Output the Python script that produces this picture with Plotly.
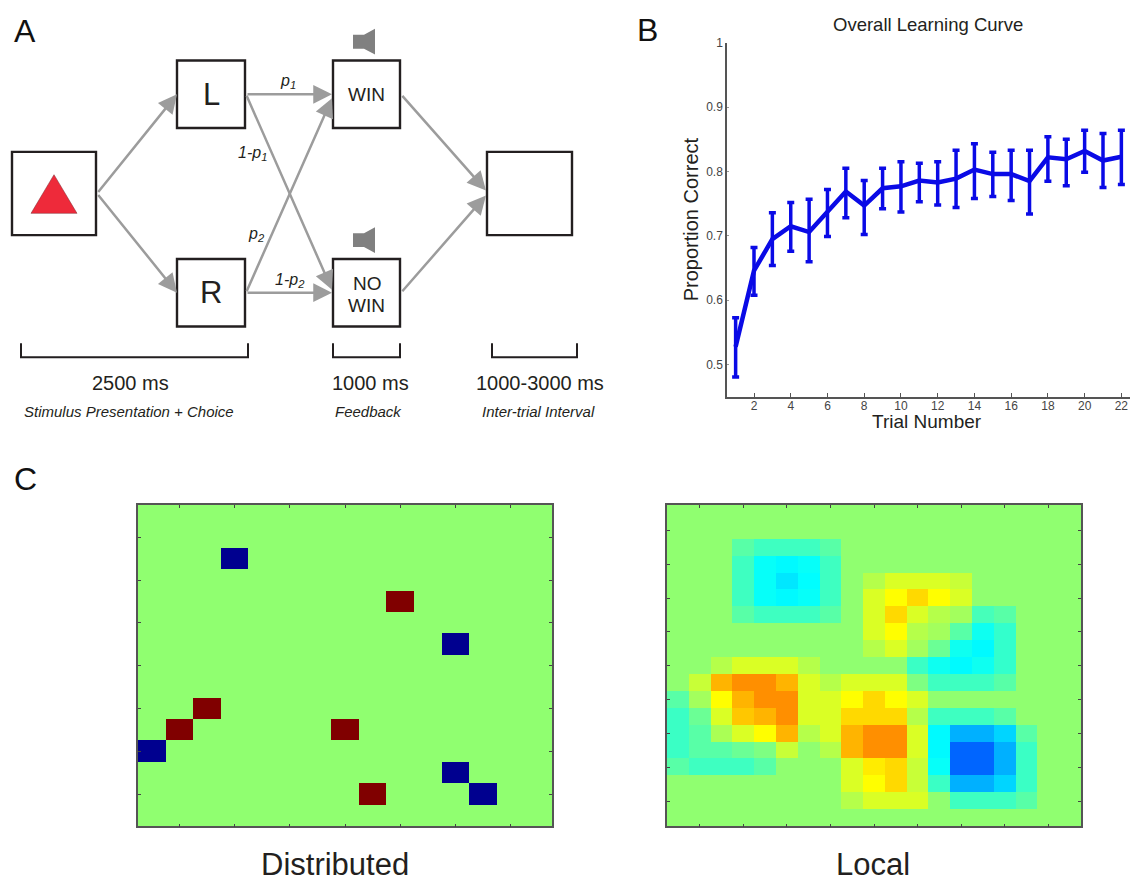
import plotly.graph_objects as go

# ---- Panel B data
trials = list(range(1, 23))
proportion_correct = [0.528, 0.646, 0.695, 0.715, 0.706, 0.738, 0.769, 0.747, 0.774, 0.777, 0.786,
                      0.783, 0.789, 0.803, 0.796, 0.796, 0.785, 0.822, 0.819, 0.832, 0.817, 0.823]
error_upper = [0.573, 0.682, 0.736, 0.752, 0.757, 0.772, 0.805, 0.786, 0.805, 0.815, 0.813,
               0.815, 0.833, 0.843, 0.830, 0.833, 0.833, 0.854, 0.850, 0.864, 0.859, 0.864]
error_lower = [0.481, 0.608, 0.654, 0.676, 0.660, 0.699, 0.728, 0.702, 0.742, 0.737, 0.753,
               0.748, 0.744, 0.758, 0.761, 0.755, 0.734, 0.785, 0.778, 0.799, 0.775, 0.780]
b_xticks = list(range(2, 23, 2))
b_yticks = [0.5, 0.6, 0.7, 0.8, 0.9, 1]
b_yticklabels = ["0.5", "0.6", "0.7", "0.8", "0.9", "1"]

# ---- Panel C data (colour levels; 0 = background)
distributed_pos = [(4, 9), (9, 2), (10, 1), (10, 7), (13, 8)]
distributed_neg = [(2, 3), (6, 11), (11, 0), (12, 11), (13, 12)]
local_levels = [
    [0]*19,
    [0]*19,
    [0, 0, 0, -1.5, -2.2, -2.2, -2.2, -1.5, 0, 0, 0, 0, 0, 0, 0, 0, 0, 0, 0],
    [0, 0, 0, -2.2, -3.7, -4, -3.7, -2.2, 0, 0, 0, 0, 0, 0, 0, 0, 0, 0, 0],
    [0, 0, 0, -2.2, -3.7, -4.5, -3.9, -2.2, 0, 1, 2, 2, 2, 1.5, 0, 0, 0, 0, 0],
    [0, 0, 0, -2.2, -3.7, -4, -3.7, -2.2, 0, 2, 3, 4, 3, 2, 0, 0, 0, 0, 0],
    [0, 0, 0, -1.5, -2.2, -2.2, -2.2, -1.5, 0, 2, 4, 2, 1, 0.5, -2, -1.5, 0, 0, 0],
    [0, 0, 0, 0, 0, 0, 0, 0, 0, 2, 3, 1, 0.5, -1.5, -3.5, -2.5, 0, 0, 0],
    [0, 0, 0, 0, 0, 0, 0, 0, 0, 1, 2, 0.5, -1, -3.5, -4, -2.5, 0, 0, 0],
    [0, 0, 1, 2, 2, 2, 1, 0, 0, 0, 0, -2.3, -3.5, -4, -3.5, -2.5, 0, 0, 0],
    [0, 1.5, 5, 6, 6, 5, 2, 1, 2, 2, 2, -0.5, -2.2, -2.2, -2.2, -1.5, 0, 0, 0],
    [-1.5, 0.5, 3, 5, 6, 6, 2, 2, 3, 4, 3, 2, 0, 0, 0, 0, 0, 0, 0],
    [-2.3, -1, 2, 4.5, 5, 6, 2, 2, 4, 4, 4, 1, -2.2, -2.2, -2.2, -1.5, 0, 0, 0],
    [-2.3, -1.5, 0.7, 2, 3, 5, 1, 2, 5, 6, 6, 2, -4, -6, -6, -5, -1.5, 0, 0],
    [-2.3, -1.5, -1.5, -1, -0.5, 1.5, 0, 1, 5, 6, 6, 2, -4, -8, -8, -6, -2.3, 0, 0],
    [-1.5, -2.2, -2.2, -2.2, -1.5, 0, 0, 0, 2, 3.5, 4, 1.5, -3.7, -8, -8, -6, -2.3, 0, 0],
    [0, 0, 0, 0, 0, 0, 0, 0, 2, 3, 4, 1.5, -2.3, -6, -6, -5, -2.3, 0, 0],
    [0, 0, 0, 0, 0, 0, 0, 0, 1, 2, 2, 2, 0, -2.2, -2.2, -2.2, -1.5, 0, 0],
    [0]*19,
]
heat_ticks_d = [1, 3, 5, 7, 9, 11, 13]
heat_ticks_l = [1, 3, 5, 7, 9, 11, 13, 15, 17]

W, H = 1130, 882
ZMIN, ZMAX = -14.14, 13.26
JET = [[0, "#00008f"], [0.125, "#0000ff"], [0.375, "#00ffff"], [0.5, "#80ff80"],
       [0.625, "#ffff00"], [0.875, "#ff0000"], [1, "#800000"]]
FONT = "Liberation Sans"
GRAY = "#9c9c9c"
BOX = "#231f20"

distributed = [[0] * 15 for _ in range(15)]
for r, c in distributed_pos:
    distributed[r][c] = ZMAX
for r, c in distributed_neg:
    distributed[r][c] = ZMIN


def xdom(a, b):
    return [a / W, b / W]


def ydom(top, bottom):
    return [1 - bottom / H, 1 - top / H]


fig = go.Figure()

# Panel B
fig.add_trace(go.Scatter(
    x=trials, y=proportion_correct, mode="lines", xaxis="x", yaxis="y",
    line=dict(color="#0a0ae6", width=4.5), showlegend=False,
    error_y=dict(type="data", symmetric=False,
                 array=[u - m for u, m in zip(error_upper, proportion_correct)],
                 arrayminus=[m - l for m, l in zip(proportion_correct, error_lower)],
                 color="#0a0ae6", thickness=3.5, width=3.5)))

# Panel C
fig.add_trace(go.Heatmap(z=distributed, xaxis="x2", yaxis="y2", zmin=ZMIN, zmax=ZMAX,
                         colorscale=JET, showscale=False))
fig.add_trace(go.Heatmap(z=local_levels, xaxis="x3", yaxis="y3", zmin=ZMIN, zmax=ZMAX,
                         colorscale=JET, showscale=False))

heat_axis = dict(showgrid=False, zeroline=False, showticklabels=False, ticks="inside", ticklen=3,
                 tickcolor="#444444", tickwidth=1, showline=True, linecolor="#555555",
                 linewidth=1.5, mirror="allticks")

shapes = []
annotations = []


def box(x0, y0, x1, y1):
    shapes.append(dict(type="rect", xref="x4", yref="y4", x0=x0, y0=y0, x1=x1, y1=y1,
                       line=dict(color=BOX, width=2.4), fillcolor="white", layer="above"))


def path(d, color, width=0, fill=None):
    shapes.append(dict(type="path", xref="x4", yref="y4", path=d, layer="above",
                       line=dict(color=color, width=width), fillcolor=fill))


def arrow(x0, y0, x1, y1):
    annotations.append(dict(xref="x4", yref="y4", axref="x4", ayref="y4", x=x1, y=y1, ax=x0, ay=y0,
                            text="", showarrow=True, arrowhead=2, arrowsize=1.5, arrowwidth=2.5,
                            arrowcolor=GRAY))


def text(x, y, s, size, color="#231f20", anchor="center"):
    annotations.append(dict(xref="x4", yref="y4", x=x, y=y, text=s, showarrow=False, xanchor=anchor,
                            yanchor="middle", font=dict(family=FONT, size=size, color=color)))


# Panel A
for bx in [(12, 146, 96, 230), (177, 54, 245, 122), (177, 254, 245, 322),
           (333, 54, 400, 122), (333, 254, 400, 322), (487, 146, 572, 230)]:
    box(*bx)
path("M54 169 L31 208 L77 208 Z", "#7a2a30", 0.5, "#ee2a3a")
for dy in (0, 200):
    path(f"M353 {28+dy} L364 {28+dy} L375 {22+dy} L375 {48+dy} L364 {42+dy} L353 {42+dy} Z",
         "#808080", 0, "#808080")
for x0, x1 in [(21, 248), (333, 400), (492, 577)]:
    path(f"M{x0} 339 L{x0} 353 L{x1} 353 L{x1} 339", "#231f20", 2)

arrow(97, 188, 177, 88)
arrow(97, 188, 177, 288)
arrow(246, 88, 332, 88)
arrow(246, 88, 332, 285)
arrow(246, 288, 332, 92)
arrow(246, 288, 332, 288)
arrow(401, 88, 486, 185)
arrow(401, 288, 486, 190)

text(211, 88, "L", 31)
text(211, 288, "R", 31)
text(366, 88, "WIN", 19)
text(367, 279, "NO", 19)
text(366, 301, "WIN", 19)
text(288, 75, "<i>p<sub>1</sub></i>", 16)
text(252, 148, "<i>1-p<sub>1</sub></i>", 16)
text(256, 229, "<i>p<sub>2</sub></i>", 16)
text(290, 276, "<i>1-p<sub>2</sub></i>", 16)
text(130, 379, "2500 ms", 20)
text(370, 379, "1000 ms", 20)
text(540, 379, "1000-3000 ms", 20)
text(129, 408, "<i>Stimulus Presentation + Choice</i>", 15)
text(368, 408, "<i>Feedback</i>", 15)
text(538, 408, "<i>Inter-trial Interval</i>", 15)
text(25, 24, "A", 32, "#111111")
text(647, 23, "B", 32, "#111111")
text(25, 476, "C", 32, "#111111")
text(928, 18, "Overall Learning Curve", 18.5)
text(927, 418, "Trial Number", 19)
annotations.append(dict(xref="x4", yref="y4", x=691, y=214, text="Proportion Correct", showarrow=False,
                        textangle=-90, font=dict(family=FONT, size=20, color="#231f20")))
text(335, 864, "Distributed", 31)
text(873, 864, "Local", 31)

fig.update_layout(
    width=W, height=H, margin=dict(l=0, r=0, t=0, b=0, pad=0), autosize=False,
    paper_bgcolor="white", plot_bgcolor="rgba(0,0,0,0)", showlegend=False,
    font=dict(family=FONT),
    xaxis=dict(domain=xdom(727, 1130), range=[0.53, 22.47], tickvals=b_xticks, ticks="inside",
               ticklen=4, tickcolor="#555555", showgrid=False, zeroline=False, showline=True,
               linecolor="#555555", linewidth=1.5, tickfont=dict(size=12, color="#444444"), anchor="y",
               ticklabelstandoff=-3),
    yaxis=dict(domain=ydom(36, 393), range=[0.45, 1], tickvals=b_yticks, ticktext=b_yticklabels,
               ticks="inside", ticklen=2, tickcolor="#999999", showgrid=False, zeroline=False,
               showline=True, linecolor="#555555", linewidth=1.5, tickfont=dict(size=12, color="#444444"),
               anchor="x"),
    xaxis2=dict(domain=xdom(138, 552), range=[-0.5, 14.5], tickvals=heat_ticks_d, anchor="y2", **heat_axis),
    yaxis2=dict(domain=ydom(502, 826), range=[14.5, -0.5], tickvals=heat_ticks_d, anchor="x2", **heat_axis),
    xaxis3=dict(domain=xdom(667, 1081), range=[-0.5, 18.5], tickvals=heat_ticks_l, anchor="y3", **heat_axis),
    yaxis3=dict(domain=ydom(502, 826), range=[18.5, -0.5], tickvals=heat_ticks_l, anchor="x3", **heat_axis),
    xaxis4=dict(domain=[0, 1], range=[0, W], visible=False, fixedrange=True, anchor="y4"),
    yaxis4=dict(domain=[0, 1], range=[H, 0], visible=False, fixedrange=True, anchor="x4"),
    shapes=shapes,
    annotations=annotations,
)

fig.write_html("out.html", config=dict(displayModeBar=False),
               post_script="document.body.style.margin='0';document.body.style.overflow='hidden';")
